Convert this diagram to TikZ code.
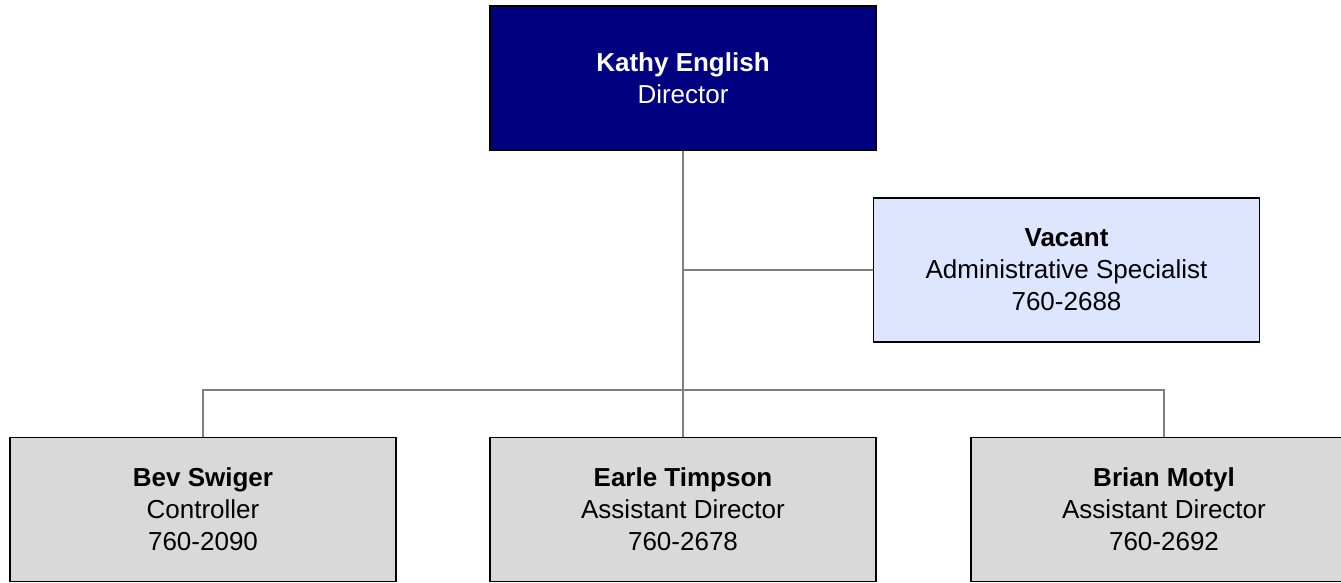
\documentclass[tikz,border=0pt]{standalone}
\usepackage{fontspec}
\setmainfont{Liberation Sans}
\definecolor{headblue}{RGB}{0,0,128}
\definecolor{staffblue}{RGB}{222,230,255}
\definecolor{unitgray}{RGB}{217,217,217}
\definecolor{linegray}{RGB}{128,128,128}
\begin{document}
\begin{tikzpicture}[x=1pt, y=-1pt,
	box/.style={draw=black, line width=1.6pt, minimum width=386pt, minimum height=144pt,
		align=center, font=\fontsize{26}{32}\selectfont, inner sep=0pt},
	head/.style={box, fill=headblue, text=white},
	staff/.style={box, fill=staffblue},
	unit/.style={box, fill=unitgray},
	conn/.style={draw=linegray, line width=1.5pt}]
	\useasboundingbox (0,0) rectangle (1341,582);

	% Define the nodes with specific positions
	\node[head] (kathy) at (683, 78) {\textbf{Kathy English}\\Director};
	\node[staff] (vacant) at (1066.5, 270) {\textbf{Vacant}\\Administrative Specialist\\760-2688};
	\node[unit] (bev) at (203, 509.5) {\textbf{Bev Swiger}\\Controller\\760-2090};
	\node[unit] (earle) at (683, 509.5) {\textbf{Earle Timpson}\\Assistant Director\\760-2678};
	\node[unit] (brian) at (1164, 509.5) {\textbf{Brian Motyl}\\Assistant Director\\760-2692};

	% Branch points on the trunk
	\coordinate (staffhub) at (kathy.south |- vacant.west);
	\coordinate (unithub) at (683, 390);

	% Draw the connectors between nodes
	\draw[conn] (kathy.south) -- (earle.north);
	\draw[conn] (staffhub) -- (vacant.west);
	\draw[conn] (bev.north) |- (unithub) -| (brian.north);
\end{tikzpicture}
\end{document}
